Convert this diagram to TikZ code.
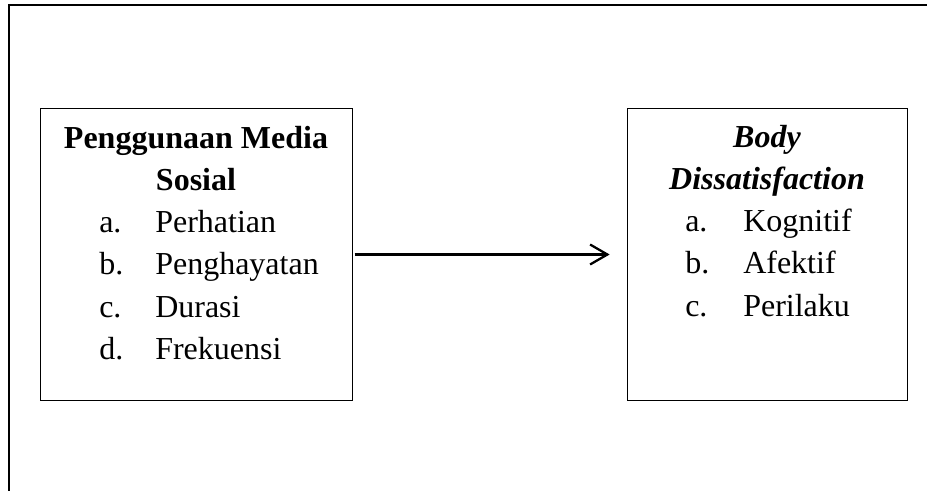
\documentclass[tikz,border=0pt]{standalone}
\usepackage{fontspec}
\setmainfont{Liberation Serif}
\usetikzlibrary{arrows.meta}

\newcommand{\boxfont}{\fontsize{24}{31.5}\selectfont}

\begin{document}
\begin{tikzpicture}[x=0.75pt,y=-0.75pt,font=\boxfont]

	\useasboundingbox (0,0) rectangle (927,491);
	\draw[line width=1.5pt] (9,491) -- (9,5) -- (927,5);

	\begin{scope}[every node/.style={draw,rectangle,line width=0.75pt,outer sep=0pt,minimum height=219pt}]
		\node[minimum width=234pt] (media) at (196,254.5) {};
		\node[minimum width=210pt] (body) at (767,254.5) {};
	\end{scope}

	\begin{scope}[every node/.style={inner sep=0pt}]
		\node[anchor=base,font=\boxfont\bfseries] (mediatitle) at (196,149) {Penggunaan Media};
		\node[anchor=base,font=\boxfont\bfseries] (mediasub) at (196,191) {Sosial};
		\foreach \lbl/\txt [count=\i] in {a./Perhatian,b./Penghayatan,c./Durasi,d./Frekuensi} {
			\node[anchor=base west] (medialbl\i) at (99,191+42*\i) {\lbl};
			\node[anchor=base west] (mediaitem\i) at (155,191+42*\i) {\txt};
		}

		\node[anchor=base,font=\boxfont\bfseries\itshape] (bodytitle) at (767,148) {Body};
		\node[anchor=base,font=\boxfont\bfseries\itshape] (bodysub) at (767,190) {Dissatisfaction};
		\foreach \lbl/\txt [count=\i] in {a./Kognitif,b./Afektif,c./Perilaku} {
			\node[anchor=base west] (bodylbl\i) at (685,190+42*\i) {\lbl};
			\node[anchor=base west] (bodyitem\i) at (743,190+42*\i) {\txt};
		}
	\end{scope}

	\draw[line width=1.7pt,-{Straight Barb[length=13pt,width=15pt]},shorten <=2pt,shorten >=13pt] (media.east) -- (body.west);

\end{tikzpicture}
\end{document}
